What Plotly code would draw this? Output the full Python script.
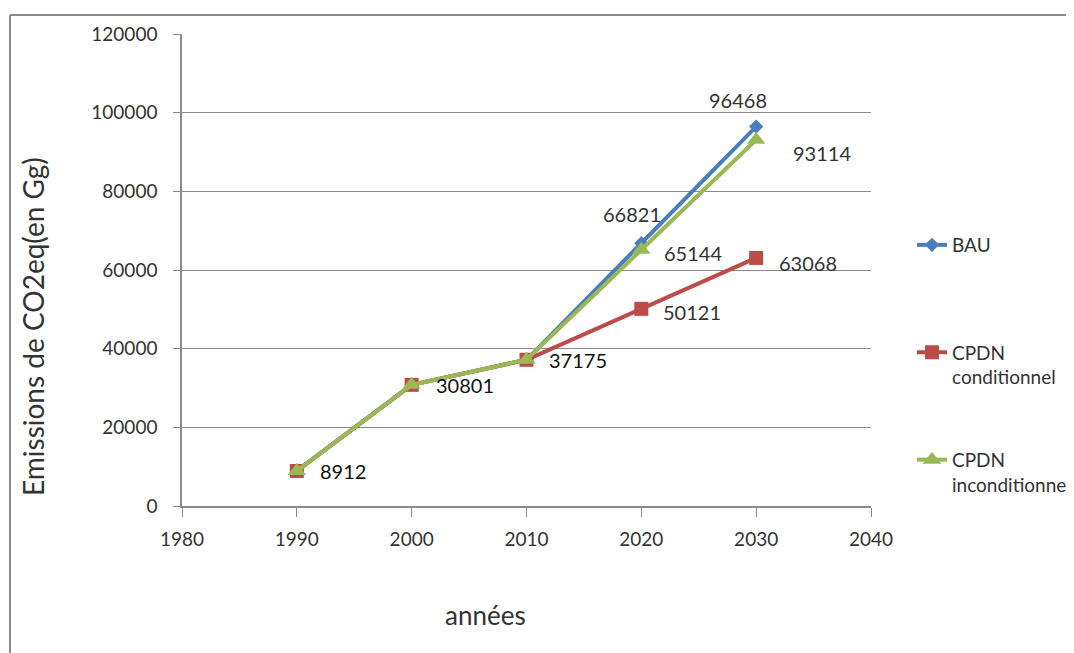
import plotly.graph_objects as go

years = [1990, 2000, 2010, 2020, 2030]
bau = [8912, 30801, 37175, 66821, 96468]
cond = [8912, 30801, 37175, 50121, 63068]
incond = [8912, 30801, 37175, 65144, 93114]

series_names = ["BAU<br> ", "CPDN<br>conditionnel", "CPDN<br>inconditionnel"]
colors = ["#4A7EBB", "#BE4B48", "#98B954"]

FONT = "Lato"
OFF = 8  # page body margin
W, H = 1074 - OFF, 653 - OFF
# plot area in page pixels
PL, PR, PT, PB = 182, 871, 34, 506
L, R, T, B = PL - OFF, PR - OFF, PT - OFF, PB - OFF


def px(xp):
    return (xp - PL) / (PR - PL)


def py(yp):
    return (PB - yp) / (PB - PT)


fig = go.Figure()
fig.add_trace(go.Scatter(x=years, y=bau, mode="lines+markers", name=series_names[0],
                         line=dict(color=colors[0], width=4),
                         marker=dict(symbol="diamond", size=11, color=colors[0]),
                         legendgroup="a"))
fig.add_trace(go.Scatter(x=years, y=cond, mode="lines+markers", name=series_names[1],
                         line=dict(color=colors[1], width=4),
                         marker=dict(symbol="square", size=14, color=colors[1]),
                         legendgroup="b"))
fig.add_trace(go.Scatter(x=years, y=incond, mode="lines+markers", name=series_names[2],
                         line=dict(color=colors[2], width=4),
                         marker=dict(symbol="triangle-up", size=16, color=colors[2]),
                         legendgroup="c"))

# data labels: (year index, series values, xshift, yshift, color)
labels = [
    (0, bau, 46, 0, "#111111"),
    (1, bau, 53, 0, "#111111"),
    (2, bau, 51, 0, "#111111"),
    (3, bau, -9, 29, "#333333"),
    (4, bau, -18, 27, "#333333"),
    (3, incond, 52, -3, "#333333"),
    (4, incond, 66, -13, "#333333"),
    (3, cond, 51, -3, "#333333"),
    (4, cond, 52, -5, "#333333"),
]
for i, vals, dx, dy, c in labels:
    fig.add_annotation(x=years[i], y=vals[i], text=str(vals[i]), showarrow=False,
                       xshift=dx, yshift=dy, xanchor="center", yanchor="middle",
                       font=dict(family=FONT, size=20, color=c))

# y title
fig.add_annotation(xref="paper", yref="paper", x=px(33), y=py(327),
                   xanchor="center", yanchor="middle",
                   text="Emissions de CO2eq(en Gg)", textangle=-90, showarrow=False,
                   font=dict(family=FONT, size=28, color="#333333"))
# x title
fig.add_annotation(xref="paper", yref="paper", x=px(485), y=py(615),
                   xanchor="center", yanchor="middle",
                   text="années", showarrow=False,
                   font=dict(family=FONT, size=26, color="#333333"))

# outer frame
fig.add_shape(type="line", xref="paper", yref="paper",
              x0=px(10), x1=px(1080), y0=py(15), y1=py(15),
              line=dict(color="#8a8a8a", width=2))
fig.add_shape(type="line", xref="paper", yref="paper",
              x0=px(10), x1=px(10), y0=py(15), y1=py(660),
              line=dict(color="#8a8a8a", width=2))

fig.update_layout(
    width=W, height=H,
    margin=dict(l=L, r=W - R, t=T, b=H - B, autoexpand=False),
    paper_bgcolor="white", plot_bgcolor="white",
    font=dict(family=FONT, size=19, color="#333333"),
    showlegend=True,
    legend=dict(x=px(912), y=py(226), xanchor="left", yanchor="top",
                traceorder="grouped", tracegroupgap=55, valign="top",
                font=dict(family=FONT, size=19, color="#333333"),
                bgcolor="rgba(0,0,0,0)"),
    xaxis=dict(range=[1980, 2040], dtick=10, tick0=1980, showgrid=False,
               showline=True, linecolor="#8a8a8a", linewidth=1.5,
               ticks="outside", ticklen=9, tickcolor="#8a8a8a", ticklabelstandoff=6,
               tickfont=dict(family=FONT, size=19, color="#333333"), zeroline=False),
    yaxis=dict(range=[0, 120000], dtick=20000, showgrid=True, gridcolor="#8a8a8a", gridwidth=1,
               showline=True, linecolor="#8a8a8a", linewidth=1.5,
               ticks="outside", ticklen=7, tickcolor="#8a8a8a", ticklabelstandoff=12,
               tickfont=dict(family=FONT, size=19, color="#333333"), zeroline=False,
               tickformat="d"),
)

fig.write_html("out.html")
